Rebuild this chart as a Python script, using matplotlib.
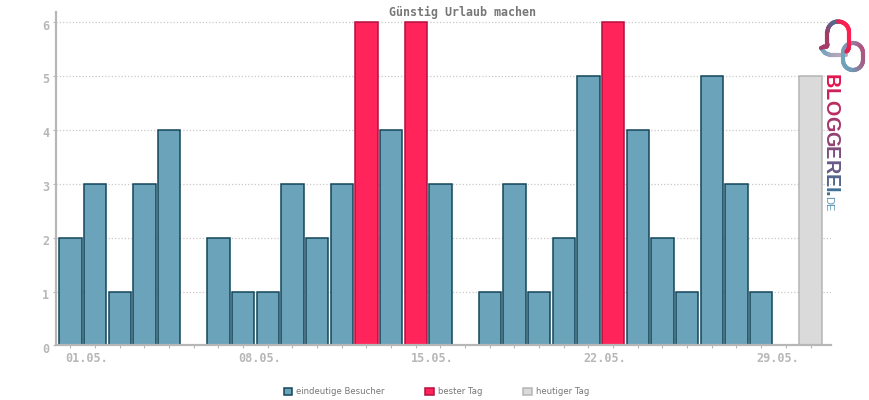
import numpy as np
import matplotlib
matplotlib.use("Agg")
import matplotlib.pyplot as plt
import matplotlib.patheffects as pe
from matplotlib.collections import LineCollection
from matplotlib.colors import to_rgb
from matplotlib.transforms import ScaledTranslation

title = "Günstig Urlaub machen"
days = list(range(1, 32))
visitors = [2, 3, 1, 3, 4, 0, 2, 1, 1, 3, 2, 3, 6, 4, 6, 3, 0, 1, 3, 1, 2, 5, 6, 4, 2, 1, 5, 3, 1, 0, 5]
best_days = [13, 15, 23]
today = 31
tick_labels = {1: "01.05.", 8: "08.05.", 15: "15.05.", 22: "22.05.", 29: "29.05."}
legend_labels = ["eindeutige Besucher", "bester Tag", "heutiger Tag"]

W, H = 870, 400
GREY = "#b7b7b7"
MONO = "DejaVu Sans Mono"
fig = plt.figure(figsize=(W / 100, H / 100), dpi=100)
fig.patch.set_facecolor("white")
L, R, T, B = 56, 831, 12, 345.4
ax = fig.add_axes([L / W, 1 - B / H, (R - L) / W, (B - T) / H])
step = 24.67
ax.set_xlim(1 - (70.4 - L) / step, 1 + (R - 70.4) / step)
ax.set_ylim(0, (B - T) / 53.9)

regular = [(d, v) for d, v in zip(days, visitors) if d not in best_days and d != today]
best = [(d, v) for d, v in zip(days, visitors) if d in best_days]
now = [(d, v) for d, v in zip(days, visitors) if d == today]
styles = [(regular, "#6ba3bb", "#14465a"), (best, "#ff2459", "#b3103f"), (now, "#dadada", "#b5b5b5")]
handles = []
for (group, face, edge), lab in zip(styles, legend_labels):
    xs, ys = zip(*group)
    keep = [i for i, y in enumerate(ys) if y > 0]
    c = ax.bar([xs[i] for i in keep], [ys[i] for i in keep], width=0.9, color=face,
               edgecolor=edge, linewidth=1.1, label=lab, zorder=2)
    handles.append(c)

ax.set_axisbelow(True)
ax.yaxis.grid(True, color="#c9c9c9", linestyle=(0, (1, 1.6)), linewidth=0.9)
ax.set_yticks(range(0, 7))
ax.set_xticks(days)
ax.set_xticklabels([tick_labels.get(d, "") for d in days])
for s in ("top", "right"):
    ax.spines[s].set_visible(False)
for s in ("left", "bottom"):
    ax.spines[s].set_color(GREY)
    ax.spines[s].set_linewidth(1.6)
    ax.spines[s].set_zorder(5)
ax.tick_params(axis="x", length=2.4, width=0.8, color=GREY, pad=2.0, labelcolor=GREY)
ax.tick_params(axis="y", length=2.2, width=0.8, color=GREY, pad=2.8, labelcolor=GREY)
dx = ScaledTranslation(-5 / 100, 0, fig.dpi_scale_trans)
dy = ScaledTranslation(0, -2.5 / 100, fig.dpi_scale_trans)
for t in ax.get_xticklabels():
    t.set_ha("left")
    t.set_fontfamily(MONO)
    t.set_fontweight("bold")
    t.set_fontsize(8.5)
    t.set_transform(t.get_transform() + dx)
for t in ax.get_yticklabels():
    t.set_fontfamily(MONO)
    t.set_fontweight("bold")
    t.set_fontsize(8.5)
    t.set_transform(t.get_transform() + dy)

fig.text(463 / W, 1 - 12 / H, title, ha="center", va="center", family=MONO,
         fontweight="bold", fontsize=8.4, color="#777777")

leg = fig.legend(handles=handles, loc="center", bbox_to_anchor=(436.5 / W, 1 - 392 / H), ncols=3,
                 frameon=False, fontsize=6.1, labelcolor="#777777", handlelength=1.0, handleheight=1.0,
                 handletextpad=0.5, columnspacing=4.8, borderpad=0, borderaxespad=0)

# Logo overlay in pixel coordinates
ov = fig.add_axes([0, 0, 1, 1], facecolor="none")
ov.set_xlim(0, W)
ov.set_ylim(H, 0)
ov.axis("off")


def grad(pts, cols, lw=3.0):
    pts = np.asarray(pts, float)
    seg = np.stack([pts[:-1], pts[1:]], axis=1)
    t = np.linspace(0, 1, len(seg))
    anchors = np.linspace(0, 1, len(cols))
    rgb = np.array([to_rgb(c) for c in cols])
    colors = np.column_stack([np.interp(t, anchors, rgb[:, i]) for i in range(3)])
    ov.add_collection(LineCollection(seg, colors=colors, linewidths=lw, capstyle="round"))


def arc(cx, cy, rx, ry, a0, a1, n=30):
    a = np.radians(np.linspace(a0, a1, n))
    return np.column_stack([cx + rx * np.cos(a), cy + ry * np.sin(a)])


tail = np.array([[821, 48], [825, 53], [830, 55], [838, 55], [846, 55]])
tail = np.vstack([np.linspace(tail[i], tail[i + 1], 6) for i in range(4)])
grad(tail, ["#6ba7c0", "#7fa3bd", "#a9a5bb", "#c0a8bd"])
loop = np.vstack([arc(853, 53, 10, 10, 180, 360, 30), [[863, 60]], arc(853, 60, 10, 10, 0, 180, 30), [[843, 53]]])
grad(loop, ["#6fa6bd", "#8a8fb0", "#b0557f", "#a0628a", "#6f9bb5", "#6fa6bd"])
left = np.vstack([[[821, 48], [824, 46.5]], arc(825.5, 44, 2, 3, 90, 0, 8)[1:], [[827.5, 33]],
                  arc(838, 32, 10.5, 10.5, 180, 270, 20)])
grad(left, ["#a63a66", "#a63a66", "#6f5a85", "#4a6f90"])
right = np.vstack([arc(838, 32, 11, 10.5, 270, 360, 20), [[849, 46]], arc(845, 46, 4, 6, 0, 70, 8)])
grad(right, ["#d92a5a", "#ff1f50", "#ff1f50", "#e0204f"])

brand = "BLOGGEREI"
start = np.array(to_rgb("#e3154f"))
end = np.array(to_rgb("#3f6f98"))
renderer = fig.canvas.get_renderer()
y = 74.0
for i, ch in enumerate(brand):
    col = start + (end - start) * i / (len(brand) - 1)
    t = ov.text(825, y, ch, rotation=-90, rotation_mode="anchor", ha="left", va="baseline",
                family="Liberation Sans", fontweight="bold", fontsize=14.2, color=col)
    y += t.get_window_extent(renderer).height
ov.text(825, 191, ".", rotation=-90, rotation_mode="anchor", ha="left", va="baseline",
        family="Liberation Sans", fontweight="bold", fontsize=14.2, color="#3f6f98")
ov.text(825, 196, "DE", rotation=-90, rotation_mode="anchor", ha="left", va="baseline",
        family="Liberation Sans", fontsize=8, color="#5b93b5")

fig.savefig("out.png", dpi=100, facecolor="white")
